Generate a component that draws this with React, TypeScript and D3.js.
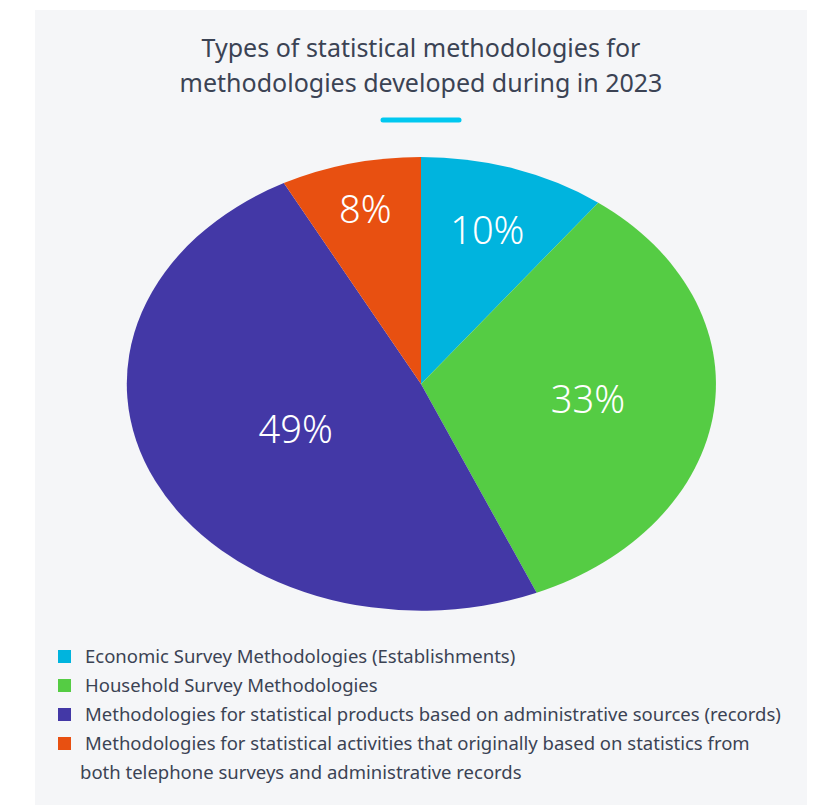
import React from "react";
import * as d3 from "d3";

const categories = [
  "Economic Survey Methodologies (Establishments)",
  "Household Survey Methodologies",
  "Methodologies for statistical products based on administrative sources (records)",
  "Methodologies for statistical activities that originally based on statistics from",
];
const legendExtra = ["", "", "", "both telephone surveys and administrative records"];
const counts = [4, 13, 19, 3];
const colors = ["#00b4de", "#55cc44", "#4338a6", "#e85011"];
const labelRadius = [0.71, 0.57, 0.47, 0.79];
const titleLines = ["Types of statistical methodologies for", "methodologies developed during in 2023"];

export default function App() {
  const W = 837, H = 805;
  const cx = 421, cy = 384, rx = 295, ry = 227;
  const total = d3.sum(counts);
  const pie = d3.pie<number>().sort(null).value((d) => d)(counts);
  const arc = d3.arc<d3.PieArcDatum<number>>().innerRadius(0).outerRadius(1);
  const font = "'Noto Sans', 'Open Sans', sans-serif";
  const textColor = "#3b4354";
  const legendY = d3.scalePoint<number>().domain(d3.range(5)).range([657, 773]);
  return (
    <svg width={W} height={H} style={{ position: "absolute", left: 0, top: 0 }} fontFamily={font}>
      <rect x={0} y={0} width={W} height={H} fill="#ffffff" />
      <rect x={35} y={10} width={772} height={H - 10} fill="#f5f6f8" />
      {titleLines.map((t, i) => (
        <text key={i} x={421} y={57 + i * 35} textAnchor="middle" fontSize={25} fill={textColor} fontWeight={400}>
          {t}
        </text>
      ))}
      <line x1={383} x2={459} y1={120} y2={120} stroke="#00c8f0" strokeWidth={5} strokeLinecap="round" />
      <g transform={`translate(${cx},${cy}) scale(${rx},${ry})`}>
        {pie.map((p, i) => (
          <path key={i} d={arc(p) || ""} fill={colors[i]} />
        ))}
      </g>
      {pie.map((p, i) => {
        const a = (p.startAngle + p.endAngle) / 2;
        const r = labelRadius[i];
        const x = cx + Math.sin(a) * r * rx;
        const y = cy - Math.cos(a) * r * ry;
        return (
          <text key={i} x={x} y={y} dy="0.35em" textAnchor="middle" fontSize={38} fill="#ffffff" fontWeight={300}>
            {Math.round((counts[i] / total) * 100)}%
          </text>
        );
      })}
      {categories.map((c, i) => (
        <g key={i}>
          <rect x={58} y={legendY(i)! - 7} width={13} height={13} fill={colors[i]} />
          <text x={85} y={legendY(i)!} dy="0.35em" fontSize={18.5} fill={textColor}>
            {c}
          </text>
        </g>
      ))}
      <text x={80} y={legendY(4)!} dy="0.35em" fontSize={18.5} fill={textColor}>
        {legendExtra[3]}
      </text>
    </svg>
  );
}
